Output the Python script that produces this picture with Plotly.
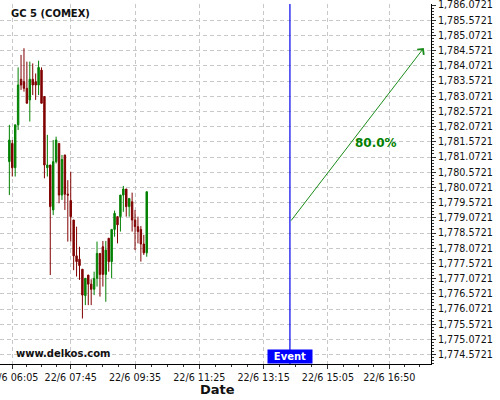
import pandas as pd
import plotly.graph_objects as go

# ---- data ----
times = pd.date_range("2016-06-22 06:00", periods=48, freq="5min")
opens = [1780.92, 1781.52, 1780.72, 1782.13, 1783.63, 1783.55, 1783.33, 1782.95, 1783.63, 1783.55,
         1783.44, 1783.93, 1783.06, 1780.72, 1780.81, 1779.33, 1780.92, 1781.52, 1779.82, 1781.14,
         1779.85, 1779.64, 1779.00, 1777.82, 1777.71, 1777.38, 1776.51, 1777.19, 1776.89, 1776.72,
         1777.08, 1777.90, 1778.12, 1777.21, 1778.40, 1777.63, 1778.69, 1779.11, 1779.11, 1779.82,
         1780.02, 1779.44, 1779.60, 1779.00, 1778.78, 1778.69, 1778.21, 1777.92]
highs = [1782.13, 1781.63, 1782.13, 1784.02, 1784.43, 1784.65, 1784.21, 1784.21, 1784.15, 1783.82,
         1784.24, 1784.02, 1783.06, 1781.80, 1780.81, 1781.63, 1781.74, 1781.52, 1781.14, 1781.14,
         1780.31, 1780.59, 1779.00, 1778.78, 1778.12, 1777.38, 1777.08, 1777.19, 1777.05, 1777.30,
         1778.29, 1777.90, 1778.31, 1778.31, 1778.40, 1778.69, 1779.31, 1779.11, 1779.82, 1780.12,
         1780.02, 1779.71, 1779.90, 1779.33, 1779.11, 1778.80, 1778.51, 1779.93]
lows = [1779.82, 1780.43, 1780.43, 1781.96, 1783.28, 1783.22, 1782.84, 1782.24, 1783.11, 1782.95,
        1783.11, 1782.84, 1780.37, 1780.43, 1777.19, 1779.16, 1780.86, 1779.55, 1779.66, 1779.33,
        1778.29, 1778.29, 1777.35, 1777.14, 1777.03, 1775.76, 1776.20, 1776.20, 1776.20, 1776.53,
        1776.81, 1776.48, 1776.81, 1776.31, 1777.30, 1777.08, 1778.45, 1778.23, 1778.62, 1779.27,
        1779.11, 1779.11, 1778.62, 1778.01, 1778.23, 1777.63, 1777.85, 1777.79]
closes = [1781.63, 1780.72, 1782.13, 1783.44, 1783.44, 1783.33, 1782.84, 1783.63, 1783.44, 1783.44,
          1784.02, 1782.84, 1780.81, 1780.81, 1779.44, 1780.92, 1781.63, 1779.82, 1780.99, 1779.85,
          1779.82, 1779.11, 1777.82, 1777.63, 1777.50, 1776.53, 1777.08, 1776.89, 1776.72, 1777.08,
          1777.90, 1777.21, 1777.21, 1778.01, 1777.63, 1778.69, 1779.22, 1778.84, 1779.82, 1780.02,
          1779.44, 1779.71, 1779.00, 1778.78, 1778.62, 1778.21, 1777.92, 1779.93]

x_ticks = ["2016-06-22 06:05", "2016-06-22 07:45", "2016-06-22 09:35", "2016-06-22 11:25",
           "2016-06-22 13:15", "2016-06-22 15:05", "2016-06-22 16:50"]
y_ticks = [1774.5721 + 0.5 * i for i in range(24)]

event_time = "2016-06-22 14:00"
arrow_start = ("2016-06-22 14:00", 1778.93)
arrow_end = ("2016-06-22 17:49", 1784.66)
prob_label = "80.0%"
prob_pos = ("2016-06-22 16:27", 1781.53)

x_range = ["2016-06-22 05:44", "2016-06-22 18:01:20"]
y_range = [1774.263, 1786.105]

# minor x ticks: quarter subdivisions between major ticks
xt = pd.to_datetime(x_ticks)
minor_x = [xt[0] - (xt[1] - xt[0]) / 4]
for a, b in zip(xt[:-1], xt[1:]):
    for k in (1, 2, 3):
        minor_x.append(a + (b - a) * k / 4)
minor_x += [xt[-1] + (xt[-1] - xt[-2]) * k / 4 for k in (1, 2, 3)]

GREEN = "#008000"
RED = "#800000"
FONT = "DejaVu Sans"

fig = go.Figure()
fig.add_trace(go.Candlestick(
    x=times, open=opens, high=highs, low=lows, close=closes,
    increasing=dict(line=dict(color=GREEN, width=1), fillcolor=GREEN),
    decreasing=dict(line=dict(color=RED, width=1), fillcolor=RED),
    whiskerwidth=0, showlegend=False, hoverinfo="skip",
))

fig.add_shape(type="line", xref="x", yref="paper", x0=event_time, x1=event_time, y0=0, y1=1,
              line=dict(color="#0000ee", width=1.2))

fig.add_annotation(x=arrow_end[0], y=arrow_end[1], ax=arrow_start[0], ay=arrow_start[1],
                   xref="x", yref="y", axref="x", ayref="y", text="", showarrow=True,
                   arrowhead=4, arrowsize=1.6, arrowwidth=1, arrowcolor="#1a8c1a")
fig.add_annotation(x=prob_pos[0], y=prob_pos[1], xref="x", yref="y", text="<b>" + prob_label + "</b>",
                   showarrow=False, font=dict(family=FONT, size=12, color=GREEN))

fig.add_annotation(x=event_time, y=0, xref="x", yref="paper", yanchor="bottom", yshift=0,
                   text="<b>Event</b>", showarrow=False, bgcolor="#0000ff", borderpad=1,
                   font=dict(family=FONT, size=10, color="white"), width=42)

fig.add_annotation(xref="paper", yref="paper", x=0.021, y=0.975, xanchor="left", yanchor="middle",
                   text="<b>GC 5 (COMEX)</b>", showarrow=False,
                   font=dict(family=FONT, size=10, color="#111"))

fig.add_annotation(xref="paper", yref="paper", x=0.033, y=0.028, xanchor="left", yanchor="middle",
                   text="<b>www.delkos.com</b>", showarrow=False,
                   font=dict(family=FONT, size=10, color="#111"))

# axis title placed precisely below tick labels
fig.add_annotation(xref="paper", yref="paper", x=217 / 431, y=-25 / 360, xanchor="center", yanchor="middle",
                   text="<b>Date</b>", showarrow=False,
                   font=dict(family=FONT, size=13, color="#111"))

fig.update_layout(
    width=500, height=400,
    margin=dict(l=0, r=69, t=4, b=36),
    paper_bgcolor="white", plot_bgcolor="white",
    font=dict(family=FONT, size=10, color="#111"),
    xaxis=dict(
        range=x_range, rangeslider=dict(visible=False), automargin=False,
        tickvals=x_ticks, tickformat="%-d/%-m %H:%M", ticklabeloverflow="allow",
        ticks="outside", ticklen=4, tickcolor="#333",
        showline=True, linecolor="black", linewidth=1,
        showgrid=True, gridcolor="#c8c8c8", griddash="4px,3px", gridwidth=1,
        zeroline=False,
        minor=dict(tickmode="array", tickvals=minor_x, ticks="outside", ticklen=2, tickcolor="#333", showgrid=False),
        tickfont=dict(family=FONT, size=9.6),
    ),
    yaxis=dict(
        side="right", range=y_range, automargin=False, ticklabeloverflow="allow",
        tickvals=y_ticks, tickformat=",.4f",
        ticks="outside", ticklen=4, tickcolor="#333",
        showline=True, linecolor="black", linewidth=1,
        showgrid=True, gridcolor="#c8c8c8", griddash="4px,3px", gridwidth=1,
        zeroline=False,
        minor=dict(dtick=0.1, tick0=1774.5721, ticks="outside", ticklen=2, tickcolor="#333", showgrid=False),
        tickfont=dict(family=FONT, size=9.6),
    ),
)

fig.write_html("out.html", config={"displayModeBar": False},
               post_script="document.body.style.margin='0px';")
